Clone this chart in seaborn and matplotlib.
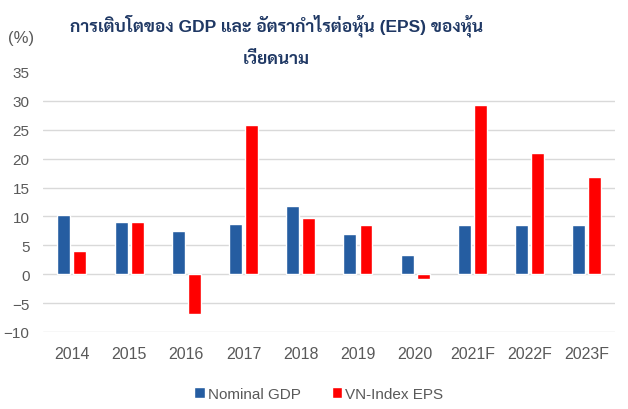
import matplotlib
matplotlib.use('Agg')
import pandas as pd
import seaborn as sns
import matplotlib.pyplot as plt

# values (%)
years = ['2014', '2015', '2016', '2017', '2018', '2019', '2020', '2021F', '2022F', '2023F']
nominal_gdp = [10.2, 9.05, 7.5, 8.7, 11.8, 7.0, 3.3, 8.5, 8.5, 8.5]
vn_index_eps = [4.0, 9.05, -6.9, 25.8, 9.7, 8.5, -0.9, 29.2, 20.9, 16.8]
series_names = ['Nominal GDP', 'VN-Index EPS']
y_ticks = [-10, -5, 0, 5, 10, 15, 20, 25, 30, 35]
title_lines = ['การเติบโตของ GDP และ อัตรากำไรต่อหุ้น (EPS) ของหุ้น', 'เวียดนาม']

df = pd.DataFrame({
    'year': years * 2,
    'value': nominal_gdp + vn_index_eps,
    'series': [series_names[0]] * len(years) + [series_names[1]] * len(years),
})

sns.set_style('white')
plt.rcParams['font.family'] = ['Liberation Sans', 'Sarabun']

grey = '#595959'
palette = {series_names[0]: '#255DA1', series_names[1]: '#FF0000'}

fig = plt.figure(figsize=(6.28, 4.10), dpi=100)
ax = fig.add_axes([0.069, 0.188, 0.911, 0.634])

sns.barplot(data=df, x='year', y='value', hue='series', order=years,
            hue_order=series_names, palette=palette, width=0.56, gap=0.19,
            saturation=1, ax=ax, legend=True)

ax.set_ylim(-10, 35)
ax.set_yticks(y_ticks)
ax.set_xlim(-0.5, len(years) - 0.5)
ax.yaxis.grid(True, color='#D9D9D9', linewidth=1)
ax.set_axisbelow(True)
ax.yaxis.get_gridlines()[-1].set_visible(False)
sns.despine(ax=ax, left=True, bottom=True)
ax.tick_params(axis='both', length=0, colors=grey)
ax.tick_params(axis='x', pad=10, labelsize=11.5)
ax.tick_params(axis='y', pad=10, labelsize=11)
ax.set_xlabel('')
ax.set_ylabel('')

handles, labels = ax.get_legend_handles_labels()
ax.legend_.remove()
fig.legend(handles, labels, loc='center', bbox_to_anchor=(0.508, 0.037), ncol=2,
           frameon=False, handlelength=0.7, handleheight=0.7, handletextpad=0.2,
           columnspacing=2.0, fontsize=11, labelcolor=grey)

# two-line title, centred over the plot area like the original
fig.text(0.44, 0.938, title_lines[0], ha='center', va='center', fontsize=12.5,
         fontweight='bold', color='#1F3864')
fig.text(0.44, 0.857, title_lines[1], ha='center', va='center', fontsize=12.5,
         fontweight='bold', color='#1F3864')
fig.text(0.013, 0.907, '(%)', ha='left', va='center', fontsize=12, color=grey)

fig.savefig('out.png', dpi=100)
